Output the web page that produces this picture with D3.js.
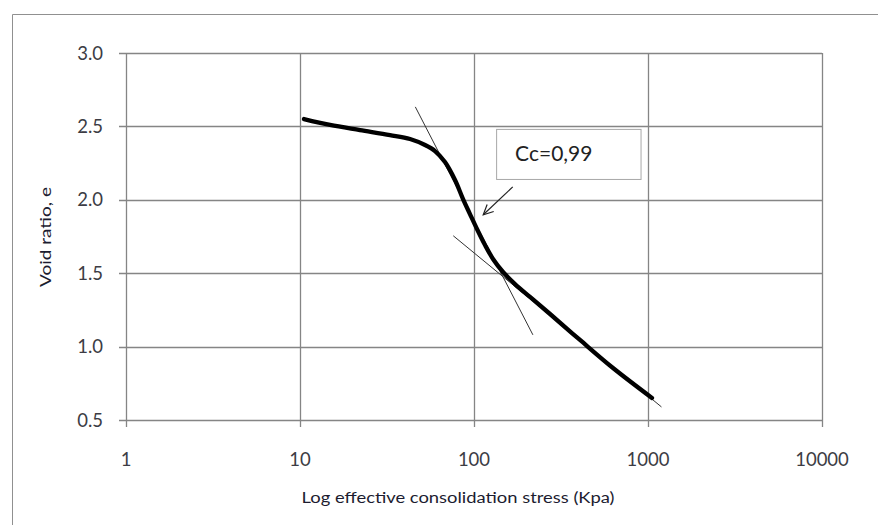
<!DOCTYPE html>
<html><head><meta charset="utf-8">
<script src="https://cdn.jsdelivr.net/npm/d3@7"></script>
<style>
html,body{margin:0;padding:0;background:#fff;}
text{font-family:Lato,"Open Sans",sans-serif;}
</style></head>
<body>
<svg id="chart" width="878" height="525"></svg>
<script>
// ---- data ----
const xTicks = [1, 10, 100, 1000, 10000];
const yTicks = [0.5, 1.0, 1.5, 2.0, 2.5, 3.0];
const curveStress = [10.54, 14.88, 22.1, 32.9, 42.9, 52.3, 59.7, 68.1, 77.8, 86.5, 94.8, 104.0, 115.7, 128.6, 146.8, 172.0, 209.8, 273.5, 406.6, 629.4, 1054];
const curveVoid   = [2.550, 2.510, 2.475, 2.441, 2.414, 2.373, 2.332, 2.257, 2.135, 2.005, 1.903, 1.801, 1.692, 1.597, 1.508, 1.426, 1.338, 1.222, 1.045, 0.854, 0.650];
const tangent1Stress = [46, 218];
const tangent1Void   = [2.633, 1.08];
const tangent2Stress = [76, 1195];
const tangent2Void   = [1.755, 0.589];
const arrowStress = [167, 113];
const arrowVoid   = [2.088, 1.898];
const labelText = "Cc=0,99";
const labelBoxStress = [134, 906];
const labelBoxVoid = [2.483, 2.142];
const xTitle = "Log effective consolidation stress (Kpa)";
const yTitle = "Void ratio, e";

// ---- layout ----
const svg = d3.select("#chart");
const L = 126, R = 822, T = 53, B = 420;
const x = d3.scaleLog().domain([1, 10000]).range([L, R]);
const y = d3.scaleLinear().domain([0.5, 3.0]).range([B, T]);
const grid = "#858585";

// outer chart border
svg.append("path").attr("d", `M12.5,525 V14.5 H878`).attr("fill", "none").attr("stroke", "#909090").attr("stroke-width", 1);

// gridlines
svg.append("g").selectAll("line").data(yTicks).join("line")
  .attr("x1", L - 7).attr("x2", R).attr("y1", d => Math.round(y(d)) + 0.5).attr("y2", d => Math.round(y(d)) + 0.5)
  .attr("stroke", grid).attr("stroke-width", 1.3);
svg.append("g").selectAll("line").data(xTicks).join("line")
  .attr("y1", T).attr("y2", B + 7).attr("x1", d => Math.round(x(d)) + 0.5).attr("x2", d => Math.round(x(d)) + 0.5)
  .attr("stroke", grid).attr("stroke-width", 1.3);

// tick labels
svg.append("g").selectAll("text").data(yTicks).join("text")
  .attr("x", 103).attr("y", d => y(d)).attr("dy", "0.36em").attr("text-anchor", "end")
  .attr("font-size", 18.5).attr("fill", "#3c3c44").text(d => d.toFixed(1));
svg.append("g").selectAll("text").data(xTicks).join("text")
  .attr("x", d => x(d)).attr("y", 466).attr("text-anchor", "middle")
  .attr("font-size", 18.5).attr("fill", "#3c3c44").text(d => String(d));

// axis titles
svg.append("text").attr("x", 458).attr("y", 503).attr("text-anchor", "middle")
  .attr("font-size", 15.5).attr("fill", "#1c1c30").attr("textLength", 313).attr("lengthAdjust", "spacingAndGlyphs").text(xTitle);
svg.append("text").attr("transform", "translate(51,237) rotate(-90)").attr("text-anchor", "middle")
  .attr("font-size", 15).attr("fill", "#1c1c30").attr("textLength", 100).attr("lengthAdjust", "spacingAndGlyphs").text(yTitle);

// tangent lines
const thin = (xs, ys) => svg.append("line")
  .attr("x1", x(xs[0])).attr("y1", y(ys[0])).attr("x2", x(xs[1])).attr("y2", y(ys[1]))
  .attr("stroke", "#333").attr("stroke-width", 1);
thin(tangent1Stress, tangent1Void);
thin(tangent2Stress, tangent2Void);

// curve
const pts = curveStress.map((s, i) => [s, curveVoid[i]]);
svg.append("path").datum(pts)
  .attr("d", d3.line().x(d => x(d[0])).y(d => y(d[1])).curve(d3.curveCatmullRom.alpha(0.5)))
  .attr("fill", "none").attr("stroke", "#000").attr("stroke-width", 4.3).attr("stroke-linecap", "round");

// label box
svg.append("rect")
  .attr("x", x(labelBoxStress[0]) + 0.5).attr("y", y(labelBoxVoid[0]) + 0.5)
  .attr("width", x(labelBoxStress[1]) - x(labelBoxStress[0])).attr("height", y(labelBoxVoid[1]) - y(labelBoxVoid[0]))
  .attr("fill", "#fff").attr("stroke", "#a8a8a8").attr("stroke-width", 1);
svg.append("text").attr("x", x(labelBoxStress[0]) + 19).attr("y", (y(labelBoxVoid[0]) + y(labelBoxVoid[1])) / 2)
  .attr("dy", "0.36em").attr("font-size", 21).attr("fill", "#222").text(labelText);

// arrow
const ax0 = x(arrowStress[0]), ay0 = y(arrowVoid[0]), ax1 = x(arrowStress[1]), ay1 = y(arrowVoid[1]);
svg.append("line").attr("x1", ax0).attr("y1", ay0).attr("x2", ax1).attr("y2", ay1).attr("stroke", "#222").attr("stroke-width", 1.2);
const ang = Math.atan2(ay0 - ay1, ax0 - ax1), hl = 11, spread = 0.45;
svg.append("path")
  .attr("d", `M${ax1 + hl * Math.cos(ang - spread)},${ay1 + hl * Math.sin(ang - spread)} L${ax1},${ay1} L${ax1 + hl * Math.cos(ang + spread)},${ay1 + hl * Math.sin(ang + spread)}`)
  .attr("fill", "none").attr("stroke", "#222").attr("stroke-width", 1.2);
</script>
</body></html>
